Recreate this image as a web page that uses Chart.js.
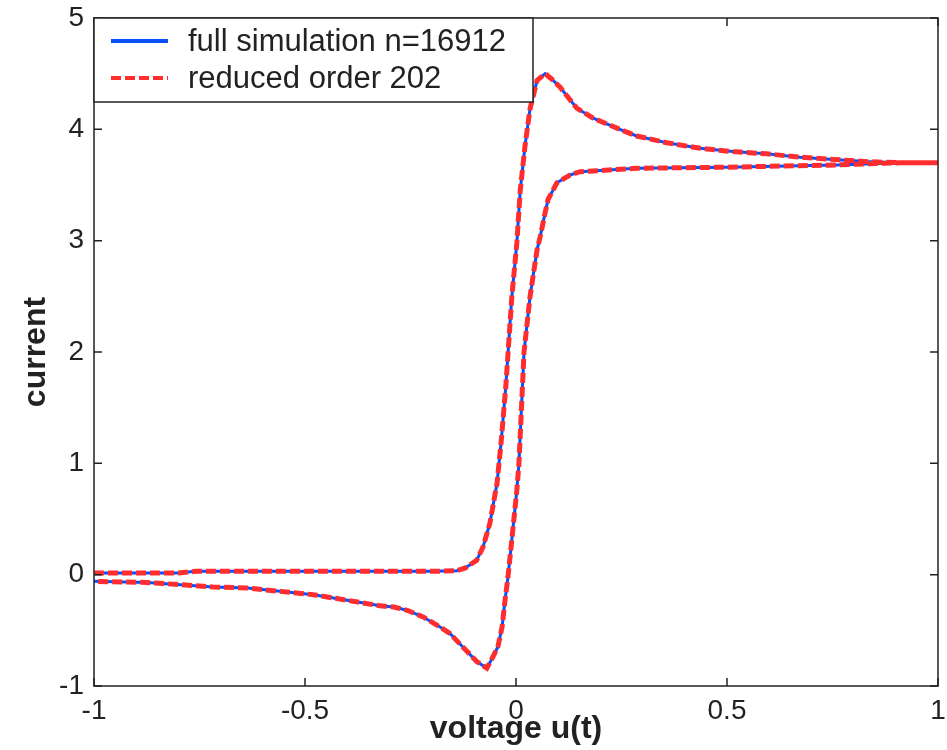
<!DOCTYPE html>
<html>
<head>
<meta charset="utf-8">
<title>current vs voltage</title>
<script src="https://cdn.jsdelivr.net/npm/chart.js@4.4.0/dist/chart.umd.min.js"></script>
<style>
  html, body { margin: 0; padding: 0; background: #fff; }
  #wrap { width: 947px; height: 750px; }
</style>
</head>
<body>
<div id="wrap"><canvas id="c"></canvas></div>
<script>
// sweep path: forward branch (-1 -> 1) then return branch (1 -> -1)
var voltage = [
  -1.00, -0.90, -0.80, -0.76, -0.60, -0.40, -0.20, -0.14, -0.12, -0.093,
  -0.078, -0.062, -0.045, -0.035, -0.024, -0.010, 0.002, 0.010, 0.021, 0.033,
  0.050, 0.069, 0.085, 0.104, 0.144, 0.183, 0.246, 0.286, 0.357, 0.436,
  0.514, 0.594, 0.673, 0.752, 0.831, 0.910, 1.00,
  0.91, 0.76, 0.50, 0.286, 0.199, 0.152, 0.128, 0.097, 0.076,
  0.069, 0.057, 0.050, 0.040, 0.033, 0.019, 0.007, 0.002, -0.010, -0.019,
  -0.026, -0.033, -0.043, -0.055, -0.069, -0.093, -0.126, -0.156, -0.18, -0.22,
  -0.258, -0.29, -0.322, -0.40, -0.48, -0.559, -0.637, -0.718, -0.796, -0.874, -1.00
];
var current = [
  0.015, 0.015, 0.015, 0.03, 0.03, 0.03, 0.03, 0.035, 0.06, 0.13,
  0.25, 0.46, 0.82, 1.20, 1.70, 2.49, 2.98, 3.45, 3.84, 4.18,
  4.44, 4.50, 4.45, 4.38, 4.19, 4.10, 4.00, 3.94, 3.88, 3.83,
  3.80, 3.78, 3.75, 3.73, 3.71, 3.70, 3.70,
  3.70, 3.68, 3.66, 3.65, 3.63, 3.62, 3.59, 3.52, 3.37,
  3.25, 3.03, 2.92, 2.67, 2.49, 2.00, 1.00, 0.76, 0.31, -0.02,
  -0.23, -0.47, -0.65, -0.74, -0.84, -0.78, -0.65, -0.53, -0.47, -0.38,
  -0.32, -0.29, -0.28, -0.23, -0.18, -0.15, -0.12, -0.11, -0.09, -0.07, -0.06
];
var seriesNames = ['full simulation n=16912', 'reduced order 202'];

var FONT = "'Liberation Sans', Arial, Helvetica, sans-serif";
var INK = '#222';
var BLUE = 'rgb(10,80,250)';
var RED = 'rgb(255,45,45)';

function points() {
  var pts = [];
  for (var i = 0; i < voltage.length; i++) {
    pts.push({x: voltage[i], y: current[i]});
  }
  return pts;
}

// plain number labels like matlab: -1, -0.5, 0 ...
function plain(v) {
  return String(Math.round(v * 100) / 100);
}

// matlab style box with inward ticks, plus the legend in the top left corner
var boxPlugin = {
  id: 'box',
  afterDraw: function(chart) {
    var ctx = chart.ctx, a = chart.chartArea;
    var xs = chart.scales.x, ys = chart.scales.y;
    var t = 8;
    ctx.save();
    ctx.strokeStyle = INK;
    ctx.lineWidth = 1.5;
    ctx.strokeRect(a.left, a.top, a.right - a.left, a.bottom - a.top);
    ctx.beginPath();
    xs.ticks.forEach(function(tk) {
      var px = xs.getPixelForValue(tk.value);
      ctx.moveTo(px, a.bottom); ctx.lineTo(px, a.bottom - t);
      ctx.moveTo(px, a.top); ctx.lineTo(px, a.top + t);
    });
    ys.ticks.forEach(function(tk) {
      var py = ys.getPixelForValue(tk.value);
      ctx.moveTo(a.left, py); ctx.lineTo(a.left + t, py);
      ctx.moveTo(a.right, py); ctx.lineTo(a.right - t, py);
    });
    ctx.stroke();

    // legend
    var lx = a.left, ly = a.top, lw = 439, lh = 84;
    ctx.fillStyle = '#fff';
    ctx.fillRect(lx, ly, lw, lh);
    ctx.strokeRect(lx, ly, lw, lh);
    var ds = chart.data.datasets;
    var rows = [23, 60];
    ctx.font = '31px ' + FONT;
    ctx.textBaseline = 'middle';
    for (var i = 0; i < ds.length; i++) {
      var y = ly + rows[i];
      ctx.beginPath();
      ctx.strokeStyle = ds[i].borderColor;
      ctx.lineWidth = 4;
      ctx.setLineDash(ds[i].borderDash || []);
      ctx.moveTo(lx + 17, y);
      ctx.lineTo(lx + 74, y);
      ctx.stroke();
      ctx.setLineDash([]);
      ctx.fillStyle = INK;
      ctx.fillText(ds[i].label, lx + 94, y + 1);
    }
    ctx.restore();
  }
};

new Chart(document.getElementById('c'), {
  type: 'scatter',
  data: {
    datasets: [
      {
        label: seriesNames[0],
        data: points(),
        showLine: true,
        borderColor: BLUE,
        borderWidth: 3,
        pointRadius: 0,
        tension: 0,
        order: 2
      },
      {
        label: seriesNames[1],
        data: points(),
        showLine: true,
        borderColor: RED,
        borderWidth: 5,
        borderDash: [10, 4],
        pointRadius: 0,
        tension: 0,
        order: 1
      }
    ]
  },
  options: {
    responsive: true,
    maintainAspectRatio: false,
    animation: false,
    layout: { padding: { top: 18, right: 9, left: 0, bottom: 0 } },
    plugins: {
      legend: { display: false },
      tooltip: { enabled: false }
    },
    scales: {
      x: {
        type: 'linear',
        min: -1, max: 1,
        afterFit: function(s) {
          s.height = 64;
          s.paddingLeft = 0;
          s.paddingRight = 0;
        },
        grid: { display: false, drawTicks: false },
        border: { display: false },
        ticks: {
          stepSize: 0.5, padding: 8, color: INK,
          maxRotation: 0, autoSkip: false,
          font: { family: FONT, size: 28 },
          callback: plain
        },
        title: {
          display: true,
          text: 'voltage u(t)',
          color: INK,
          padding: { top: 0, bottom: 2 },
          font: { family: FONT, size: 32, weight: 'bold' }
        }
      },
      y: {
        type: 'linear',
        min: -1, max: 5,
        afterFit: function(s) {
          s.width = 94;
          s.paddingTop = 0;
          s.paddingBottom = 0;
        },
        grid: { display: false, drawTicks: false },
        border: { display: false },
        ticks: {
          stepSize: 1, padding: 10, color: INK,
          font: { family: FONT, size: 28 },
          callback: plain
        },
        title: {
          display: true,
          text: 'current',
          color: INK,
          padding: { top: 17, bottom: 0 },
          font: { family: FONT, size: 32, weight: 'bold' }
        }
      }
    }
  },
  plugins: [boxPlugin]
});
</script>
</body>
</html>
